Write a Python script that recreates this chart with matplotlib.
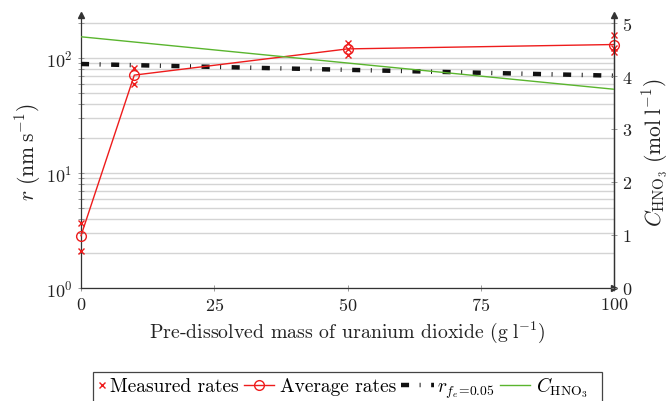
import matplotlib
matplotlib.use("Agg")
import matplotlib.pyplot as plt
from matplotlib.lines import Line2D
from matplotlib.patches import Rectangle
from matplotlib.legend_handler import HandlerLine2D
from matplotlib.ticker import LogLocator, LogFormatterSciNotation, FixedLocator

plt.rcParams.update({
    "font.family": "serif",
    "font.serif": ["cmr10"],
    "mathtext.fontset": "cm",
    "axes.formatter.use_mathtext": True,
    "font.size": 13,
    "lines.scale_dashes": False,
    "path.simplify": False,
})

# ---- data ----
x_meas = [0, 0, 10, 10, 50, 50, 50, 100, 100, 100]
r_meas = [3.65, 2.09, 81.9, 59.0, 135, 120, 107, 158, 121, 112]
x_avg = [0, 10, 50, 100]
r_avg = [2.85, 71.0, 120, 131]
x_fe = [0, 100]
r_fe = [88.7, 70.2]
x_c = [0, 100]
c_hno3 = [4.74, 3.75]
x_ticks = [0, 25, 50, 75, 100]
c_ticks = [0, 1, 2, 3, 4, 5]

RED = "#ee1c1c"
GREEN = "#5ab52e"
GRID = "#d4d4d4"
AX = "#333333"
TXT = "#222222"
LEG_FS = 14

fig = plt.figure(figsize=(6.7, 4.02), dpi=100)
ax = fig.add_axes([81 / 670, 1 - 289 / 402, (614 - 81) / 670, (289 - 16) / 402])
ax2 = ax.twinx()

ax.set_yscale("log")
ax.set_xlim(0, 100)
ax.set_ylim(1, 10 ** ((289 - 16) / 115))
ax2.set_ylim(0, (289 - 16) / 53)

ax.yaxis.set_major_locator(LogLocator(base=10, numticks=10))
ax.yaxis.set_minor_locator(LogLocator(base=10, subs=range(2, 10), numticks=20))
ax.yaxis.set_major_formatter(LogFormatterSciNotation())
ax.grid(True, which="both", axis="y", color=GRID, lw=1.0, zorder=0)
ax.set_axisbelow(True)
ax.set_xticks(x_ticks)
ax2.yaxis.set_major_locator(FixedLocator(c_ticks))

for a in (ax, ax2):
    a.tick_params(which="both", direction="inout", length=5, width=0.6, color="#888888",
                  labelcolor=TXT)
    a.tick_params(which="minor", length=4)
    for s in a.spines.values():
        s.set_color(AX)
        s.set_linewidth(0.9)
    a.spines["top"].set_visible(False)
ax2.spines["left"].set_visible(False)
ax2.spines["bottom"].set_visible(False)

# lines
dash = (0, (5.8, 7.6, 0.7, 7.6))
ax.plot(x_fe, r_fe, color="#111111", lw=3.2, linestyle=dash, dash_capstyle="butt", zorder=3)
ax.plot(x_avg, r_avg, color=RED, linestyle="-", lw=1.0, zorder=5, clip_on=False)
ax.plot(x_avg, r_avg, linestyle="none", marker="o", ms=7, mfc="none", mec=RED, mew=1.0,
        zorder=5, clip_on=False)
ax.plot(x_meas, r_meas, linestyle="none", marker="x", ms=4.5, mec=RED, mew=1.0, zorder=6,
        clip_on=False)
ax2.plot(x_c, c_hno3, color=GREEN, lw=1.0, zorder=4)

# arrows
ax.plot(0, 1, marker="^", ms=4, color=AX, transform=ax.transAxes, clip_on=False, zorder=10)
ax.plot(1, 0, marker=">", ms=4, color=AX, transform=ax.transAxes, clip_on=False, zorder=10)
ax2.plot(1, 1, marker="^", ms=4, color=AX, transform=ax2.transAxes, clip_on=False, zorder=10)

ax.set_xlabel(r"Pre-dissolved mass of uranium dioxide $(\mathrm{g}\;\mathrm{l}^{-1})$",
              color=TXT, labelpad=4, fontsize=14.3)
ax.set_ylabel(r"$r\ (\mathrm{nm}\;\mathrm{s}^{-1})$", color=TXT, labelpad=2, fontsize=15.5)
ax2.set_ylabel(r"$C_{\mathrm{HNO_3}}\ (\mathrm{mol}\;\mathrm{l}^{-1})$", color=TXT,
               labelpad=6, fontsize=15.5)


class ExtHandler(HandlerLine2D):
    """Line handle that may extend past the (short) handle box; lengths in points."""

    def __init__(self, left=0.0, right=0.0, **kw):
        super().__init__(**kw)
        self.left = left
        self.right = right

    def get_xdata(self, legend, xdescent, ydescent, width, height, fontsize):
        x0 = -xdescent - self.left
        x1 = -xdescent + width - self.right
        return [x0, x1], [0.5 * (x0 + x1)]


handles = [
    Line2D([], [], linestyle="none", marker="x", ms=4.5, mec=RED, mew=1.0),
    Line2D([], [], color=RED, lw=1.0, marker="o", ms=7, mfc="none", mec=RED),
    Line2D([], [], color="#111111", lw=3.2, linestyle=dash, dash_capstyle="butt"),
    Line2D([], [], color=GREEN, lw=1.0),
]
labels = ["Measured rates", "Average rates", r"$r_{f_e\!=\!0.05}$", r"$C_{\mathrm{HNO_3}}$"]
hmap = {
    handles[0]: ExtHandler(0, 0),
    handles[1]: ExtHandler(15.4, 2.2),
    handles[2]: ExtHandler(15.4, 0.5),
    handles[3]: ExtHandler(15.4, 2.2),
}
leg = fig.legend(handles, labels, loc="center left", bbox_to_anchor=(93 / 670, 1 - 388 / 402),
                 ncol=4, frameon=False, fontsize=LEG_FS,
                 handlelength=0.6, handletextpad=0.15, columnspacing=1.36, borderpad=0.15,
                 borderaxespad=0, handler_map=hmap)
fig.patches.append(Rectangle((93 / 670, 1 - 405 / 402), (602 - 93) / 670, (405 - 373) / 402,
                             transform=fig.transFigure, fill=False, edgecolor="#444444",
                             lw=0.9))

fig.savefig("out.png", dpi=100)
